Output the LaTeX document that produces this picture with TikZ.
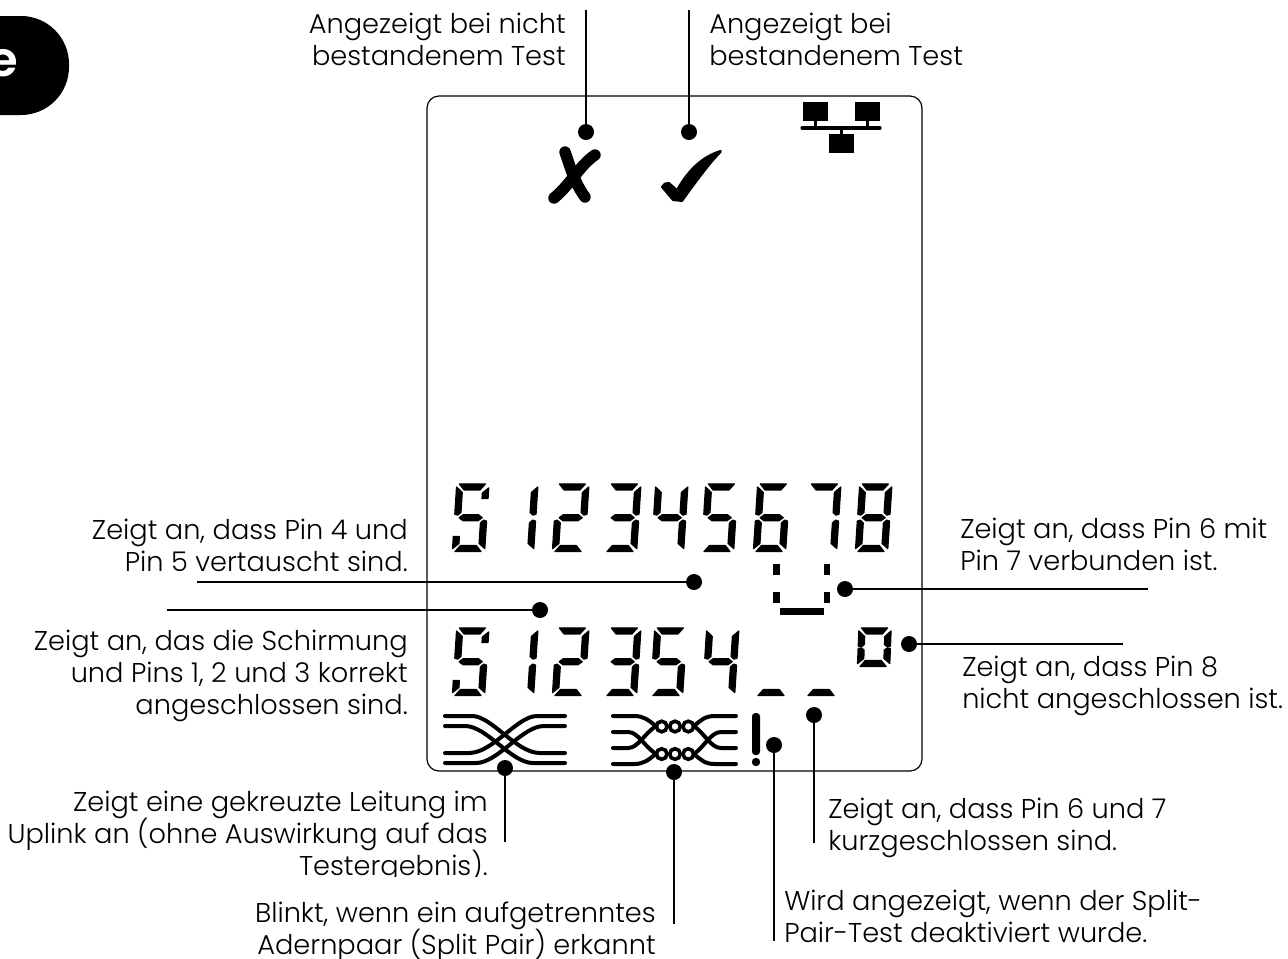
\documentclass[tikz,border=0pt]{standalone}
\usepackage{fontspec}
\setmainfont{Poppins}[UprightFont=* Light,BoldFont=* SemiBold]
\def\sega{(3,0.4)--(29,0.4)--(24,6.4)--(8,6.4)--cycle}
\def\segd{(3,68.1)--(29,68.1)--(24,62.1)--(8,62.1)--cycle}
\def\segg{(5,34.2)--(9,31.2)--(24,31.2)--(28,34.2)--(24,37.2)--(9,37.2)--cycle}
\def\segf{(0.4,3.5)--(6.4,9)--(6.4,29)--(3.4,31.6)--(0.4,30.6)--cycle}
\def\sege{(0.4,37.6)--(3.4,36.6)--(6.4,39.5)--(6.4,60)--(0.4,65)--cycle}
\def\segb{(32.6,3.5)--(32.6,30.6)--(29.6,31.6)--(26.6,29)--(26.6,9)--cycle}
\def\segc{(32.6,37.6)--(32.6,65)--(26.6,60)--(26.6,39.5)--(29.6,36.6)--cycle}
\def\segB{(32.6,4.5)--(32.6,15)--(26.6,15)--(26.6,9.5)--cycle}
\def\segE{(0.4,53)--(6.4,53)--(6.4,60)--(0.4,65)--cycle}
% small zero of the last bottom digit
\def\sego{(3,39)--(29,39)--(24,33)--(8,33)--cycle}
\def\segp{(0.4,3.5)--(6.4,9)--(6.4,17)--(3.4,19.5)--(0.4,18.5)--cycle}
\def\segq{(0.4,21)--(3.4,20.5)--(6.4,22.5)--(6.4,31)--(0.4,36)--cycle}
\def\segr{(32.6,3.5)--(32.6,18.5)--(29.6,19.5)--(26.6,17)--(26.6,9)--cycle}
\def\segs{(32.6,21)--(32.6,36)--(26.6,31)--(26.6,22.5)--(29.6,20.5)--cycle}
\newcommand{\lcddigit}[3]{\begin{scope}[shift={(#1+4.4,#2)},xslant=0.065]
  \foreach \s in {#3}{\expandafter\filldraw\expandafter[lcd]\csname seg\s\endcsname;}
\end{scope}}
\newcommand{\lblstrut}{\rule{0pt}{15pt}}
\lineskiplimit=-20pt
\normallineskiplimit=-20pt
\tikzset{
  lcd/.style={line width=0.95pt,line join=round},
  lbl/.style={inner sep=0pt,font=\fontsize{20.4pt}{24pt}\selectfont,execute at begin node=\lblstrut},
  lblR/.style={lbl,align=right,anchor=north east},
  lblL/.style={lbl,align=left,anchor=north west},
  dot/.style={circle,fill=black,draw=none,minimum size=12pt,inner sep=0pt},
  leader/.style={line width=2.2pt},
  wire/.style={line width=3pt,line cap=round},
  bead/.style={line width=2.7pt}
}
\begin{document}
\begin{tikzpicture}[x=0.75pt,y=-0.75pt]
\useasboundingbox (0,0) rectangle (1288,958);
\clip (0,0) rectangle (1288,958);
% badge
\fill[black,rounded corners=36pt] (-60,16) rectangle (69,115);
\node[text=white,font=\fontsize{36pt}{36pt}\selectfont\bfseries,anchor=base east,inner sep=0pt] (badge) at (18,76) {e};
% screen
\draw[line width=0.9pt,rounded corners=9pt] (427,96) rectangle (922,771);
% network icon
\fill (803,102) rectangle (828,121);
\fill (855,102) rectangle (880,121);
\fill (829,134) rectangle (854,153);
\fill (813.5,121) rectangle (816.5,128);
\fill (866,121) rectangle (869,128);
\fill (840,128) rectangle (843,134);
\draw[line width=2.4pt,line cap=round] (802,128) -- (880,128);
% cross mark
\draw[line width=8.6pt,line cap=round] (565,152) .. controls (570,166) and (574,182) .. (585,197);
\draw[line width=8.6pt,line cap=round] (595,155) .. controls (580,165) and (570,185) .. (554,198);
% check mark
\filldraw[line width=1.5pt,line join=round] (720.5,151) .. controls (703,156) and (688,170) .. (677,190) -- (669,183) .. controls (666,182) and (664,184) .. (662,187) -- (673,200) -- (682,201) .. controls (695,183) and (708,165) .. (720.5,152) -- cycle;
% top row digits
\lcddigit{452}{483.5}{a,f,g,c,d,B,E}
\lcddigit{501}{483.5}{b,c}
\lcddigit{552}{483.5}{a,b,g,e,d}
\lcddigit{604}{483.5}{a,b,g,c,d}
\lcddigit{651}{483.5}{f,b,g,c}
\lcddigit{701}{483.5}{a,f,g,c,d}
\lcddigit{753}{483.5}{a,f,g,e,c,d}
\lcddigit{804}{483.5}{a,b,c}
\lcddigit{855}{483.5}{a,b,c,d,e,f,g}
% bottom row digits
\lcddigit{452}{627.5}{a,f,g,c,d,B,E}
\lcddigit{501}{627.5}{b,c}
\lcddigit{552}{627.5}{a,b,g,e,d}
\lcddigit{604}{627.5}{a,b,g,c,d}
\lcddigit{650}{627.5}{a,f,g,c,d}
\lcddigit{702}{627.5}{f,b,g,c}
\lcddigit{755}{627.5}{d}
\lcddigit{805}{627.5}{d}
\begin{scope}[shift={(858.6,627.5)},xslant=0.04]
  \foreach \s in {a,o,p,q,r,s}{\expandafter\filldraw\expandafter[lcd]\csname seg\s\endcsname;}
\end{scope}
% bridge marks
\fill (773,564) rectangle (779.5,575);
\fill (823.5,564) rectangle (830,575);
\fill (773,592) rectangle (779.5,603);
\fill (823.5,592) rectangle (830,603);
\fill (779.5,608) rectangle (823.5,615);
% crossed cable icon
\draw[wire] (445,716) -- (472,716) .. controls (492,716) and (516,753) .. (540,753) -- (565,753);
\draw[wire] (445,726) -- (465,726) .. controls (487,726) and (511,763) .. (533,763) -- (565,763);
\draw[wire] (565,716) -- (537,716) .. controls (517,716) and (493,753) .. (469,753) -- (445,753);
\draw[wire] (565,726) -- (544,726) .. controls (522,726) and (498,763) .. (476,763) -- (445,763);
% split pair icon
\foreach \yy in {726.5,754}{\foreach \xx in {661.7,675,688.3}{\draw[bead] (\xx,\yy) circle[radius=5.3];}}
\draw[wire] (613,716) -- (634,716) .. controls (644,716) and (648,720) .. (656,726);
\draw[wire] (613,732) -- (628,732) .. controls (638,732) and (644,746) .. (656,754);
\draw[wire] (613,748) -- (628,748) .. controls (638,748) and (644,734) .. (656,726);
\draw[wire] (613,764) -- (634,764) .. controls (644,764) and (648,760) .. (656,754);
\draw[wire] (736,716) -- (715,716) .. controls (705,716) and (701,720) .. (694,726);
\draw[wire] (736,732) -- (721,732) .. controls (711,732) and (705,746) .. (694,754);
\draw[wire] (736,748) -- (721,748) .. controls (711,748) and (705,734) .. (694,726);
\draw[wire] (736,764) -- (715,764) .. controls (705,764) and (701,760) .. (694,754);
% exclamation
\fill[rounded corners=2.5pt] (752,713) rectangle (760,755);
\fill (756,762) circle[radius=4.2];
% dots
\node[dot] (dFail) at (586,132) {};
\node[dot] (dPass) at (689,132) {};
\node[dot] (dSwap) at (694,582) {};
\node[dot] (dOk) at (540,610) {};
\node[dot] (dBridge) at (845,589) {};
\node[dot] (dOpen) at (909,644) {};
\node[dot] (dCross) at (505,768) {};
\node[dot] (dSplit) at (674,772) {};
\node[dot] (dOff) at (774,745) {};
\node[dot] (dShort) at (814,715) {};
% free ends
\coordinate (eFail) at (586,10);
\coordinate (ePass) at (689,10);
\coordinate (eSwap) at (197,582);
\coordinate (eOk) at (167,610);
\coordinate (eBridge) at (1148,589);
\coordinate (eOpen) at (1123,644);
\coordinate (eCross) at (505,842);
\coordinate (eSplit) at (674,924);
\coordinate (eOff) at (774,941);
\coordinate (eShort) at (814,843);
\foreach \n in {Fail,Pass,Swap,Ok,Bridge,Open,Cross,Split,Off,Short}{\draw[leader] (d\n.center) -- (e\n);}
% labels
\node[lblR] (tFail) at (566,12.5) {Angezeigt bei nicht\\bestandenem Test};
\node[lblL] (tPass) at (709,12.5) {Angezeigt bei\\bestandenem Test};
\node[lblR] (tSwap) at (408,519) {Zeigt an, dass Pin 4 und\\Pin 5 vertauscht sind.};
\node[lblR] (tOk) at (408,630) {Zeigt an, das die Schirmung\\und Pins 1, 2 und 3 korrekt\\angeschlossen sind.};
\node[lblL] (tBridge) at (960,517.5) {Zeigt an, dass Pin 6 mit\\Pin 7 verbunden ist.};
\node[lblL] (tOpen) at (962,655.5) {Zeigt an, dass Pin 8\\nicht angeschlossen ist.};
\begin{scope}
\clip (0,780) rectangle (700,876);
\node[lblR] (tCross) at (488,790.5) {Zeigt eine gekreuzte Leitung im\\Uplink an (ohne Auswirkung auf das\\Testergebnis).};
\end{scope}
\node[lblR] (tSplit) at (656,902) {Blinkt, wenn ein aufgetrenntes\\Adernpaar (Split Pair) erkannt};
\node[lblL] (tShort) at (828,798) {Zeigt an, dass Pin 6 und 7\\kurzgeschlossen sind.};
\node[lblL] (tOff) at (784,890) {Wird angezeigt, wenn der Split-\\Pair-Test deaktiviert wurde.};
\end{tikzpicture}
\end{document}
